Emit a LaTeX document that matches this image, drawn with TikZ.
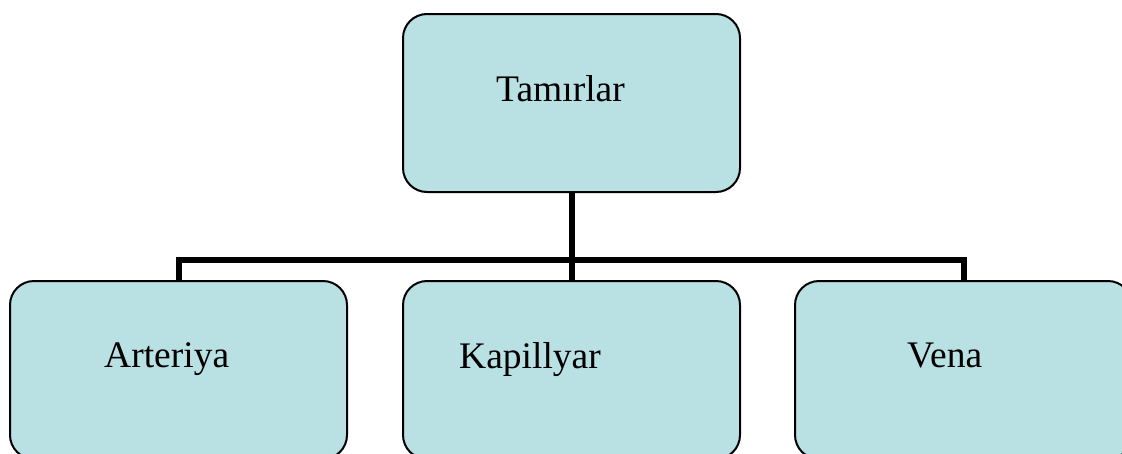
\documentclass[tikz,border=0pt]{standalone}
\usepackage{fontspec}
\setmainfont{Liberation Serif}
\usetikzlibrary{calc}

\definecolor{boxblue}{RGB}{185,224,227}
\tikzset{
  box/.style={draw=black, line width=2pt, fill=boxblue, rounded corners=24pt, minimum width=337pt, minimum height=178pt, inner sep=0pt},
  word/.style={anchor=base west, inner sep=0pt, font=\fontsize{37.5}{42}\selectfont},
  conn/.style={line width=6pt, line cap=butt}
}

\begin{document}
\begin{tikzpicture}[x=1pt, y=-1pt]
\useasboundingbox (0,0) rectangle (1122,453);
\node[box] (vessels) at (571.5,103) {};
\node[box] (artery) at (178.5,370) {};
\node[box] (capillary) at (571.5,370) {};
\node[box] (vein) at (963.5,370) {};
\coordinate (bus) at (0,259.5);
\draw[conn] (vessels.south) -- (capillary.north);
\draw[conn] (artery.north) |- (bus -| vein.north) -- (vein.north);
\node[word] (lvessels) at (496,101.5) {Tamırlar};
\node[word] (lartery) at (104,367.5) {Arteriya};
\node[word] (lcapillary) at (459,368) {Kapillyar};
\node[word] (lvein) at (907,367.5) {Vena};
\end{tikzpicture}
\end{document}
